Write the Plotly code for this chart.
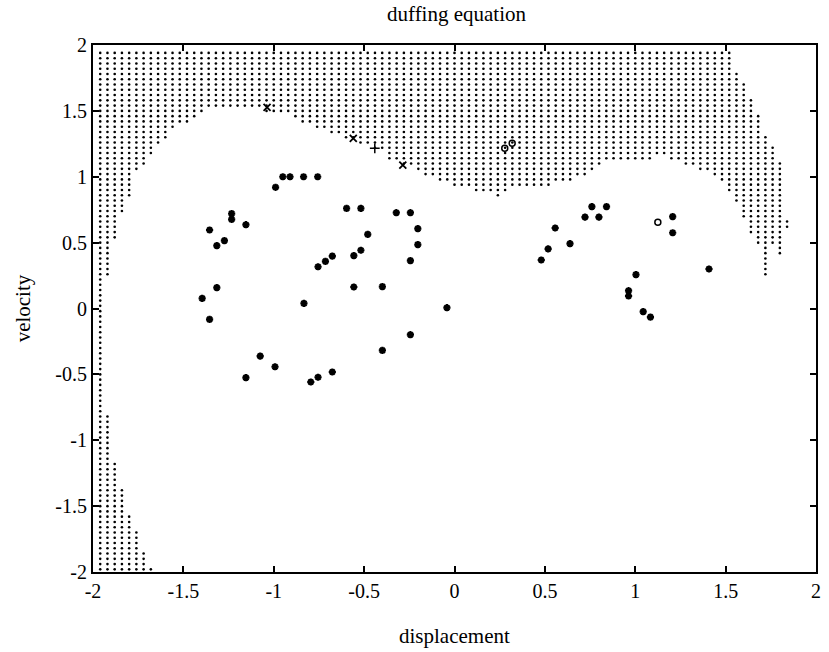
import numpy as np
import plotly.graph_objects as go

# ---------------- data ----------------
tick_vals = [-2, -1.5, -1, -0.5, 0, 0.5, 1, 1.5, 2]
tick_text = ["-2", "-1.5", "-1", "-0.5", "0", "0.5", "1", "1.5", "2"]

# simulation grid (initial conditions) used for the basin of attraction
grid_x = np.round(-1.96 + 0.04 * np.arange(99), 2)
grid_y = np.round(-1.98 + 0.04 * np.arange(99), 2)

# upper basin: per grid column, lowest and highest velocity of the dotted cells
top_lo = [-1.98, 0.26, 0.54, 0.74, 0.86, 1.06, 1.10, 1.18, 1.26, 1.30,
          1.38, 1.42, 1.42, 1.46, 1.50, 1.54, 1.54, 1.54, 1.54, 1.54,
          1.54, 1.54, 1.54, 1.50, 1.50, 1.50, 1.50, 1.46, 1.42, 1.42,
          1.38, 1.38, 1.34, 1.34, 1.30, 1.30, 1.26, 1.26, 1.22, 1.22,
          1.14, 1.14, 1.10, 1.10, 1.06, 1.02, 1.02, 0.98, 0.98, 0.94,
          0.94, 0.94, 0.90, 0.90, 0.90, 0.86, 0.90, 0.94, 0.94, 0.94,
          0.94, 0.94, 0.94, 0.98, 0.98, 0.98, 1.02, 1.02, 1.06, 1.10,
          1.14, 1.14, 1.14, 1.14, 1.14, 1.14, 1.14, 1.18, 1.18, 1.14,
          1.14, 1.10, 1.10, 1.06, 1.06, 1.02, 0.98, 0.90, 0.82, 0.70,
          0.58, 0.50, 0.26, 0.50, 0.42, 0.62, None, None, None]
top_hi = [1.94] * 88 + [1.78, 1.70, 1.58, 1.46, 1.30, 1.22, 1.10, 0.66,
                        None, None, None]
# lower-left basin: per grid column (from the left edge), highest velocity
bot_hi = [-1.98, -0.82, -1.18, -1.38, -1.58, -1.70, -1.86, -1.98]

# attractor points
star_x = [-0.99, -0.95, -0.91, -0.835, -0.757, -0.597, -0.518, -0.322, -0.244,
          -1.233, -1.233, -1.154, -1.355, -0.203, -0.48, -1.273, -1.315, -0.203,
          -0.518, -0.676, -0.557, -0.714, -0.244, -0.755, -1.315, -0.557, -0.399,
          -1.396, -0.833, -1.355, -0.042, -0.244, -0.399, -1.075, -0.993, -1.154,
          -0.676, -0.755, -0.795, 0.48, 0.518, 0.557, 0.639, 0.722, 0.76, 0.799,
          0.841, 1.207, 1.207, 1.408, 1.004, 0.963, 0.963, 1.044, 1.084]
star_y = [0.92, 1.0, 1.0, 1.0, 1.0, 0.76, 0.76, 0.727, 0.727,
          0.72, 0.677, 0.636, 0.596, 0.606, 0.563, 0.515, 0.477, 0.485,
          0.442, 0.398, 0.401, 0.358, 0.363, 0.317, 0.158, 0.163, 0.166,
          0.077, 0.039, -0.082, 0.006, -0.199, -0.318, -0.361, -0.442, -0.525,
          -0.482, -0.522, -0.558, 0.368, 0.452, 0.611, 0.492, 0.694, 0.773, 0.694,
          0.773, 0.697, 0.575, 0.30, 0.257, 0.135, 0.095, -0.024, -0.065]
xmark_x = [-1.037, -0.56, -0.286]
xmark_y = [1.527, 1.292, 1.089]
plus_x = [-0.441]
plus_y = [1.216]
circ_x = [0.278, 0.319, 1.125]
circ_y = [1.216, 1.254, 0.654]

# ---------------- build basin cells ----------------
bx, by = [], []
eps = 1e-9
for k, x in enumerate(grid_x):
    lo, hi = top_lo[k], top_hi[k]
    bh = bot_hi[k] if k < len(bot_hi) else None
    for y in grid_y:
        inside = False
        if lo is not None and lo - eps <= y <= hi + eps:
            inside = True
        if bh is not None and y <= bh + eps:
            inside = True
        if inside:
            bx.append(float(x))
            by.append(float(y))

fig = go.Figure()
fig.add_trace(go.Scatter(x=bx, y=by, mode="markers",
                         marker=dict(symbol="circle", size=2.6, color="black"),
                         hoverinfo="skip", showlegend=False))
fig.add_trace(go.Scatter(x=star_x, y=star_y, mode="markers",
                         marker=dict(symbol="asterisk-open", size=6, color="black",
                                     line=dict(width=2.2, color="black")),
                         showlegend=False))
fig.add_trace(go.Scatter(x=xmark_x, y=xmark_y, mode="markers",
                         marker=dict(symbol="x-thin-open", size=7, color="black",
                                     line=dict(width=1.8, color="black")),
                         showlegend=False))
fig.add_trace(go.Scatter(x=plus_x, y=plus_y, mode="markers",
                         marker=dict(symbol="cross-thin-open", size=7, color="black",
                                     line=dict(width=1.5, color="black")),
                         showlegend=False))
fig.add_trace(go.Scatter(x=circ_x, y=circ_y, mode="markers",
                         marker=dict(symbol="circle-open", size=6, color="black",
                                     line=dict(width=1.5, color="black")),
                         showlegend=False))

font_family = "Liberation Serif"
axis_common = dict(range=[-2, 2], tickvals=tick_vals, ticktext=tick_text,
                   showline=True, linewidth=2, linecolor="black", mirror="ticks",
                   ticks="inside", ticklen=6, tickwidth=1.5, tickcolor="black",
                   showgrid=False, zeroline=False,
                   tickfont=dict(family=font_family, size=20, color="black"))

fig.update_layout(
    width=829, height=652,
    margin=dict(l=93, r=8, t=45, b=80),
    paper_bgcolor="white", plot_bgcolor="white",
    title=dict(text="duffing equation", x=0.5507, xanchor="center",
               y=1 - 14 / 652, yanchor="middle", yref="container",
               font=dict(family=font_family, size=21, color="black")),
    xaxis=dict(**axis_common),
    yaxis=dict(**axis_common),
    annotations=[
        dict(text="displacement", xref="paper", yref="paper", x=0.5, y=-0.121,
             xanchor="center", yanchor="middle", showarrow=False,
             font=dict(family=font_family, size=21, color="black")),
        dict(text="velocity", xref="paper", yref="paper", x=-0.097, y=0.5,
             xanchor="center", yanchor="middle", showarrow=False, textangle=-90,
             font=dict(family=font_family, size=21, color="black")),
    ],
)

fig.write_html("out.html")
